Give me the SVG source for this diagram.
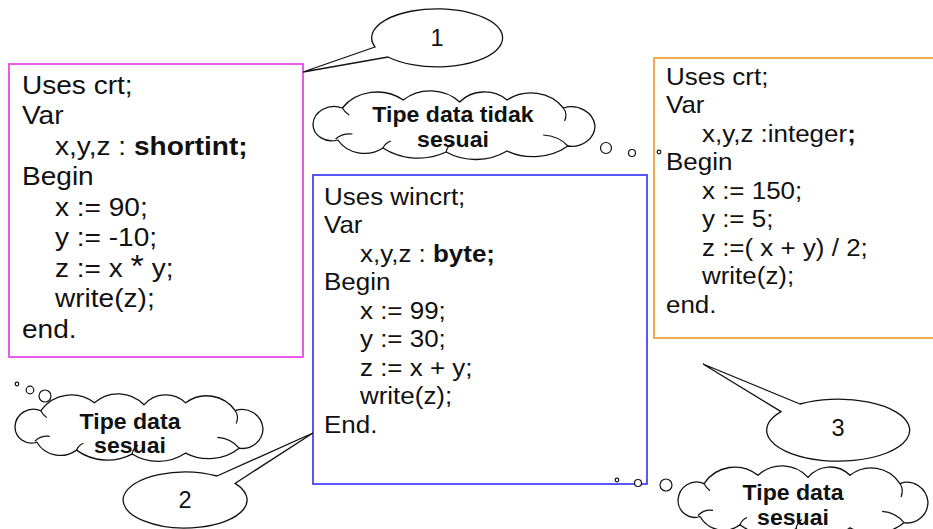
<svg xmlns="http://www.w3.org/2000/svg" xmlns:xlink="http://www.w3.org/1999/xlink" width="933" height="529" viewBox="0 0 933 529">
  <style>
    .code { font-family: "Liberation Sans", Arial, sans-serif; fill: #111; }
    .b { font-weight: bold; }
    .label { font-family: "Liberation Sans", Arial, sans-serif; font-weight: bold; fill: #111; font-size: 22px; text-anchor: middle; }
    .num { font-family: "Liberation Sans", Arial, sans-serif; fill: #111; font-size: 23.5px; text-anchor: middle; }
    .shape { fill: #fff; stroke: #111; stroke-width: 1.3; }
    .cloud { fill: #fff; stroke: #111; stroke-width: 1.3; vector-effect: non-scaling-stroke; }
    .inner { fill: none; stroke: #111; stroke-width: 1.2; vector-effect: non-scaling-stroke; }
    .dot { fill: #fff; stroke: #111; stroke-width: 1.2; }
  </style>
  <defs>
    <!-- cloud outline in a 250 x 68 frame -->
    <g id="cloudShape">
      <path class="cloud" d="M 0,34 A 18.6 18.6 0 0 1 26,18 A 37.7 37.7 0 0 1 80,10 A 36 36 0 0 1 130,12 A 29 29 0 0 1 172,10 A 35 35 0 0 1 222,18 A 21 21 0 0 1 250,36 A 20.6 20.6 0 0 1 226,56 A 50 50 0 0 1 172,61 A 49.6 49.6 0 0 1 118,62 A 53 53 0 0 1 62,58 A 27.6 27.6 0 0 1 22,50 A 16.7 16.7 0 0 1 0,34 Z"/>
      <path class="inner" d="M 20,49 Q 26,43 35,44"/>
      <path class="inner" d="M 26,18 Q 28,22 32,25"/>
      <path class="inner" d="M 222,18 Q 226,24 223,31"/>
      <path class="inner" d="M 226,56 Q 218,46 204,45"/>
      <path class="inner" d="M 118,62 Q 119,56 124,53"/>
      <path class="inner" d="M 62,58 Q 64,53 69,51"/>
    </g>
  </defs>

  <!-- program 1: shortint -->
  <g id="box-shortint">
    <rect x="9" y="64" width="294" height="293" fill="#fff" stroke="#e94ae9" stroke-width="1.8"/>
    <g class="code" font-size="25.5" transform="translate(22 0) scale(1.1 1)">
      <text x="0" y="94">Uses crt;</text>
      <text x="0" y="124.5">Var</text>
      <text x="30" y="155">x,y,z : <tspan class="b">shortint;</tspan></text>
      <text x="0" y="185.5">Begin</text>
      <text x="30" y="216">x := 90;</text>
      <text x="30" y="246.5">y := -10;</text>
      <text x="30" y="277">z := x <tspan font-size="31">*</tspan> y;</text>
      <text x="30" y="307.5">write(z);</text>
      <text x="0" y="338">end.</text>
    </g>
  </g>

  <!-- program 2: byte -->
  <g id="box-byte">
    <rect x="313" y="175" width="334" height="309" fill="#fff" stroke="#4646f5" stroke-width="1.8"/>
    <g class="code" font-size="23.6" transform="translate(324 0) scale(1.1 1)">
      <text x="0" y="205">Uses wincrt;</text>
      <text x="0" y="233.5">Var</text>
      <text x="32.7" y="262">x,y,z : <tspan class="b">byte;</tspan></text>
      <text x="0" y="290.5">Begin</text>
      <text x="32.7" y="319">x := 99;</text>
      <text x="32.7" y="347.5">y := 30;</text>
      <text x="32.7" y="376">z := x + y;</text>
      <text x="32.7" y="404.5">write(z);</text>
      <text x="0" y="433">End.</text>
    </g>
  </g>

  <!-- program 3: integer -->
  <g id="box-integer">
    <rect x="654" y="58" width="300" height="280" fill="#fff" stroke="#f0a23a" stroke-width="1.8"/>
    <g class="code" font-size="23.6" transform="translate(666 0) scale(1.1 1)">
      <text x="0" y="85">Uses crt;</text>
      <text x="0" y="113.5">Var</text>
      <text x="32.7" y="142">x,y,z :integer<tspan class="b">;</tspan></text>
      <text x="0" y="170.5">Begin</text>
      <text x="32.7" y="199">x := 150;</text>
      <text x="32.7" y="227.5">y := 5;</text>
      <text x="32.7" y="256">z :=( x + y) / 2;</text>
      <text x="32.7" y="284.5">write(z);</text>
      <text x="0" y="313">end.</text>
    </g>
  </g>

  <!-- thought cloud: type mismatch -->
  <g id="cloud-tidak-sesuai">
    <use xlink:href="#cloudShape" transform="translate(313 90) scale(1.128 1)"/>
    <circle class="dot" cx="606" cy="148" r="5.5"/>
    <circle class="dot" cx="632" cy="153" r="3.5"/>
    <circle class="dot" cx="659" cy="152" r="1.8"/>
    <g transform="translate(453 0) scale(1.05 1)">
      <text class="label" x="0" y="122">Tipe data tidak</text>
      <text class="label" x="0" y="147">sesuai</text>
    </g>
  </g>

  <!-- thought cloud: type ok (left) -->
  <g id="cloud-sesuai-left">
    <use xlink:href="#cloudShape" transform="translate(15 393) scale(0.992 0.985)"/>
    <circle class="dot" cx="17" cy="384" r="1.8"/>
    <circle class="dot" cx="30" cy="390" r="3.8"/>
    <circle class="dot" cx="45" cy="396" r="6"/>
    <g transform="translate(130 0) scale(1.05 1)">
      <text class="label" x="0" y="429">Tipe data</text>
      <text class="label" x="0" y="453">sesuai</text>
    </g>
  </g>

  <!-- thought cloud: type ok (right) -->
  <g id="cloud-sesuai-right">
    <use xlink:href="#cloudShape" transform="translate(678 465) scale(1 1.03)"/>
    <circle class="dot" cx="617" cy="480" r="1.8"/>
    <circle class="dot" cx="638" cy="483" r="3.5"/>
    <circle class="dot" cx="666" cy="485" r="6"/>
    <g transform="translate(793 0) scale(1.05 1)">
      <text class="label" x="0" y="500">Tipe data</text>
      <text class="label" x="0" y="525">sesuai</text>
    </g>
  </g>

  <!-- numbered speech callouts -->
  <g id="callout-1">
    <path class="shape" d="M 375,47 L 303,72 L 388,57 A 65.5 29 0 1 0 375,47 Z"/>
    <text class="num" x="437" y="46">1</text>
  </g>
  <g id="callout-2">
    <path class="shape" d="M 217,476 L 313,433 L 235,483.4 A 62 28 0 1 1 217,476 Z"/>
    <text class="num" x="185" y="508">2</text>
  </g>
  <g id="callout-3">
    <path class="shape" d="M 800,404 L 703,364 L 781,411.6 A 71.5 31 0 1 0 800,404 Z"/>
    <text class="num" x="838" y="436">3</text>
  </g>
</svg>
